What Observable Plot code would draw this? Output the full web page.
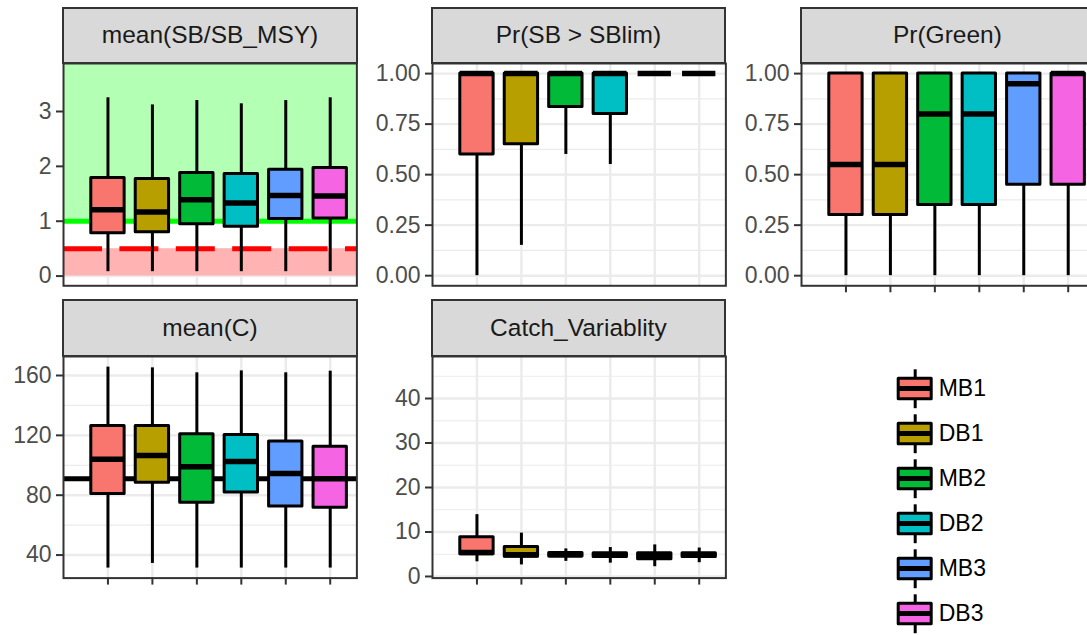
<!DOCTYPE html>
<html><head><meta charset="utf-8">
<script src="https://cdn.jsdelivr.net/npm/d3@7"></script>
<script src="https://cdn.jsdelivr.net/npm/@observablehq/plot@0.6"></script>
<style>
html,body{margin:0;padding:0;background:#fff;}
#fig{position:relative;width:1087px;height:635px;overflow:hidden;font-family:"Liberation Sans",Arial,Helvetica,sans-serif;}
.strip{position:absolute;box-sizing:border-box;background:#d9d9d9;border:2px solid #333;display:flex;align-items:center;justify-content:center;font-size:24.5px;color:#1a1a1a;white-space:pre;}
.panel{position:absolute;}
</style></head><body><div id="fig"></div>
<script>
const strategies = ["MB1","DB1","MB2","DB2","MB3","DB3"];
const colors = ["#F8766D","#B79F00","#00BA38","#00BFC4","#619CFF","#F564E3"];
const panelTitles = ["mean(SB/SB_MSY)","Pr(SB > SBlim)","Pr(Green)","mean(C)","Catch_Variablity"];
// each row: [lower whisker, Q1, median, Q3, upper whisker]
const sbRatio = [[0.08,0.78,1.21,1.79,3.25],[0.08,0.80,1.17,1.77,3.12],[0.08,0.945,1.39,1.88,3.20],[0.08,0.90,1.33,1.86,3.14],[0.08,1.04,1.47,1.94,3.20],[0.08,1.05,1.46,1.97,3.25]];
const prSBlim = [[0,0.60,1,1,1],[0.15,0.65,1,1,1],[0.60,0.835,1,1,1],[0.55,0.80,1,1,1],[1,1,1,1,1],[1,1,1,1,1]];
const prGreen = [[0,0.30,0.55,1,1],[0,0.30,0.55,1,1],[0,0.35,0.80,1,1],[0,0.35,0.80,1,1],[0,0.45,0.95,1,1],[0,0.45,1,1,1]];
const meanC = [[31.3,80.8,104,126.2,165.6],[34.4,88.3,106.5,126.2,165.1],[31.3,75,99,120.8,161.8],[31.3,81.8,102.5,120.2,163.1],[31.3,72.5,94.5,115.9,161.8],[31.3,71.6,91,112.4,162.9]];
const catchVar = [[3.3,5.0,5.4,8.8,13.9],[2.6,4.45,4.9,6.6,9.75],[3.4,4.5,4.9,5.3,6.2],[3.0,4.4,4.8,5.2,6.5],[2.2,3.9,4.5,5.2,7.1],[3.1,4.4,4.8,5.2,6.4]];

const sbTicks = [0,1,2,3], sbMinor = [0.5,1.5,2.5,3.5];
const prTicks = [0,0.25,0.5,0.75,1], prMinor = [0.125,0.375,0.625,0.875];
const cTicks = [40,80,120,160], cMinor = [60,100,140];
const cvTicks = [0,10,20,30,40], cvMinor = [5,15,25,35,45];

// reference zones and lines
const sbZoneLo = [0, 0.5, 1], sbZoneHi = [0.5, 1, 5], sbZoneFill = ["#FFB3B3","#FFFFFF","#B3FFB3"];
const sbTarget = [1], sbLimit = [0.5], catchRef = [91];

// layout
const colLeft = [63.3, 431.7, 800.7], frameW = 293.4;
const rowTop = [62.7, 355.7], frameH = [222.3, 221.6], stripTop = [8.3, 300];
const ML = 72, MB = 12;
const fontFam = '"Liberation Sans", Arial, Helvetica, sans-serif';

const fig = document.getElementById("fig");
const positions = strategies.map((s, i) => i + 1);
const half = 0.375;

const panels = [
  {data: sbRatio, domain: [-0.177, 3.875], ticks: sbTicks, minor: sbMinor, fmt: d3.format("d"), col: 0, row: 0, xTicks: false, extra: "sb"},
  {data: prSBlim, domain: [-0.05, 1.05], ticks: prTicks, minor: prMinor, fmt: d3.format(".2f"), col: 1, row: 0, xTicks: false},
  {data: prGreen, domain: [-0.05, 1.05], ticks: prTicks, minor: prMinor, fmt: d3.format(".2f"), col: 2, row: 0, xTicks: true},
  {data: meanC, domain: [24.6, 172.7], ticks: cTicks, minor: cMinor, fmt: d3.format("d"), col: 0, row: 1, xTicks: true, extra: "c"},
  {data: catchVar, domain: [-0.36, 49.44], ticks: cvTicks, minor: cvMinor, fmt: d3.format("d"), col: 1, row: 1, xTicks: true}
];

panels.forEach((p, k) => {
  const rows = p.data.map((v, i) => ({strategy: strategies[i], pos: i + 1, lo: v[0], q1: v[1], med: v[2], q3: v[3], hi: v[4]}));
  const marks = [
    Plot.gridY(p.minor, {stroke: "#ebebeb", strokeOpacity: 1, strokeWidth: 1.2}),
    Plot.gridY(p.ticks, {stroke: "#ebebeb", strokeOpacity: 1, strokeWidth: 2.4}),
    Plot.gridX(positions, {stroke: "#ebebeb", strokeOpacity: 1, strokeWidth: 2.4})
  ];
  if (p.extra === "sb") {
    const zones = sbZoneLo.map((lo, i) => ({lo, hi: sbZoneHi[i], fill: sbZoneFill[i]}));
    marks.push(Plot.rect(zones, {x1: 0, x2: 6.6, y1: "lo", y2: "hi", fill: d => d.fill, clip: true}));
    marks.push(Plot.ruleY(sbTarget, {stroke: "#00FF00", strokeWidth: 5}));
    marks.push(Plot.ruleY(sbLimit, {stroke: "#FF0000", strokeWidth: 5, strokeDasharray: "39,17.4"}));
  }
  if (p.extra === "c") {
    marks.push(Plot.ruleY(catchRef, {stroke: "black", strokeWidth: 5}));
  }
  marks.push(
    Plot.ruleX(rows, {x: "pos", y1: "lo", y2: "q1", stroke: "black", strokeWidth: 3}),
    Plot.ruleX(rows, {x: "pos", y1: "q3", y2: "hi", stroke: "black", strokeWidth: 3}),
    Plot.rect(rows, {x1: d => d.pos - half, x2: d => d.pos + half, y1: "q1", y2: "q3", fill: "strategy", stroke: "black", strokeWidth: 3, strokeLinejoin: "round"}),
    Plot.ruleY(rows, {y: "med", x1: d => d.pos - half, x2: d => d.pos + half, stroke: "black", strokeWidth: 5.5}),
    Plot.frame({stroke: "#333", strokeWidth: 2}),
    Plot.axisY(p.ticks, {tickFormat: p.fmt, tickSize: 7, tickPadding: 5, stroke: "#333", strokeWidth: 2, fill: "#4d4d4d", fontSize: 23, label: null})
  );
  if (p.xTicks) {
    marks.push(Plot.axisX(positions, {tickFormat: () => "", tickSize: 7, stroke: "#333", strokeWidth: 2, label: null}));
  }
  const chart = Plot.plot({
    width: ML + frameW, height: frameH[p.row] + MB,
    marginLeft: ML, marginRight: 0, marginTop: 0, marginBottom: MB,
    x: {domain: [0, 6.6], axis: null, label: null},
    y: {domain: p.domain, axis: null, label: null},
    color: {domain: strategies, range: colors},
    style: {fontFamily: fontFam, fontSize: "23px", background: "transparent", overflow: "visible"},
    marks
  });
  chart.classList.add("panel");
  chart.style.left = (colLeft[p.col] - ML) + "px";
  chart.style.top = rowTop[p.row] + "px";
  fig.appendChild(chart);

  const strip = document.createElement("div");
  strip.className = "strip";
  strip.textContent = panelTitles[k];
  strip.style.left = (colLeft[p.col] - 1) + "px";
  strip.style.width = (frameW + 2) + "px";
  strip.style.top = (stripTop[p.row] - 1) + "px";
  strip.style.height = (rowTop[p.row] - stripTop[p.row] + 2) + "px";
  fig.appendChild(strip);
});

// legend
const legend = Plot.plot({
  width: 200, height: 273,
  marginLeft: 48.2, marginRight: 118.8, marginTop: 0, marginBottom: 0,
  x: {domain: [0, 1], axis: null},
  y: {domain: strategies, type: "band", padding: 0, axis: null},
  color: {domain: strategies, range: colors},
  style: {fontFamily: fontFam, fontSize: "23px", background: "transparent", overflow: "visible"},
  marks: [
    Plot.tickX(strategies, {x: 0.5, y: d => d, insetTop: 3.3, insetBottom: 2.8, stroke: "black", strokeWidth: 3}),
    Plot.barX(strategies, {x1: 0, x2: 1, y: d => d, fill: d => d, insetTop: 12.25, insetBottom: 12.25, stroke: "black", strokeWidth: 3, strokeLinejoin: "round"}),
    Plot.barX(strategies, {x1: 0, x2: 1, y: d => d, fill: "black", insetTop: 20, insetBottom: 20}),
    Plot.text(strategies, {x: 1, y: d => d, text: d => d, dx: 7, textAnchor: "start", fontSize: 23, fill: "#000"})
  ]
});
legend.classList.add("panel");
legend.style.left = "850px";
legend.style.top = "364px";
fig.appendChild(legend);
</script></body></html>
